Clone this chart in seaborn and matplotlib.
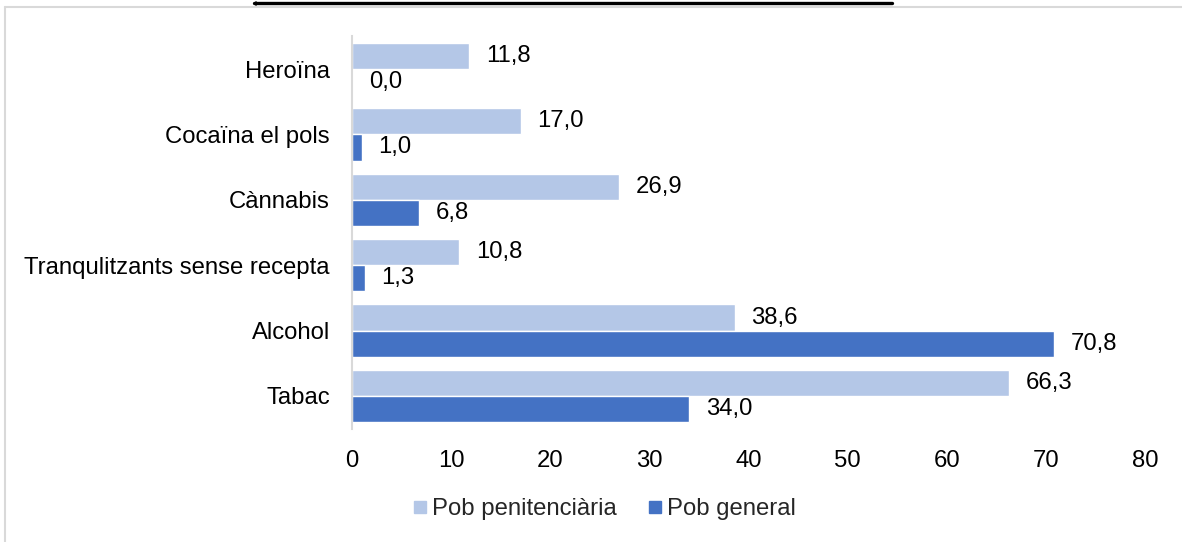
import numpy as np
import pandas as pd
import matplotlib
matplotlib.use("Agg")
import matplotlib.pyplot as plt
from matplotlib.lines import Line2D
import seaborn as sns

categories = ["Heroïna", "Cocaïna el pols", "Cànnabis",
              "Tranqulitzants sense recepta", "Alcohol", "Tabac"]
pob_penitenciaria = [11.8, 17.0, 26.9, 10.8, 38.6, 66.3]
pob_general = [0.0, 1.0, 6.8, 1.3, 70.8, 34.0]
series_names = ["Pob penitenciària", "Pob general"]
series_colors = ["#B4C7E7", "#4472C4"]
x_ticks = [0, 10, 20, 30, 40, 50, 60, 70, 80]

df = pd.DataFrame({
    "Substancia": categories * 2,
    "Valor": pob_penitenciaria + pob_general,
    "Poblacio": [series_names[0]] * len(categories) + [series_names[1]] * len(categories),
})

sns.set_style("white")
plt.rcParams["font.family"] = ["Liberation Sans", "DejaVu Sans"]
fs = 17.2

fig = plt.figure(figsize=(11.82, 5.42), dpi=100)
ax = fig.add_axes([352 / 1182, 1 - 428.7 / 542, (1145 - 352) / 1182, (428.7 - 36.3) / 542])

sns.barplot(data=df, y="Substancia", x="Valor", hue="Poblacio", orient="h",
            palette=series_colors, hue_order=series_names, order=categories,
            width=0.8, saturation=1, errorbar=None, legend=False, ax=ax)

for cont in ax.containers:
    vals = [b.get_width() for b in cont]
    ax.bar_label(cont, labels=["{:.1f}".format(v).replace(".", ",") for v in vals],
                 padding=12, fontsize=fs, color="black")

ax.set_xlim(0, 80)
ax.set_xticks(x_ticks)
ax.set_xticklabels([str(t) for t in x_ticks])
ax.set_xlabel("")
ax.set_ylabel("")
ax.tick_params(axis="both", length=0, labelsize=fs, colors="black")
ax.tick_params(axis="y", pad=16)
ax.tick_params(axis="x", pad=15)
for side in ["top", "right", "bottom"]:
    ax.spines[side].set_visible(False)
ax.spines["left"].set_color("#D9D9D9")
ax.spines["left"].set_linewidth(1.5)

handles = [Line2D([], [], marker="s", linestyle="", markersize=8.5,
                  markerfacecolor=c, markeredgecolor=c) for c in series_colors]
fig.legend(handles, series_names, loc="center", ncol=2,
           bbox_to_anchor=(604 / 1182, 1 - 509 / 542), frameon=False,
           fontsize=fs, handlelength=0.6, handletextpad=0.2, columnspacing=1.3)

# chart frame and the line above it
fig.add_artist(Line2D([5 / 1182, 1], [1 - 7 / 542, 1 - 7 / 542], color="#D9D9D9", lw=1.5))
fig.add_artist(Line2D([5 / 1182, 5 / 1182], [0, 1 - 7 / 542], color="#D9D9D9", lw=1.5))
fig.add_artist(Line2D([254 / 1182, 892 / 1182], [1 - 2.5 / 542, 1 - 2.5 / 542], color="black", lw=2.4))
fig.add_artist(Line2D([256 / 1182, 256 / 1182], [1 - 1.5 / 542, 1 - 5 / 542], color="black", lw=1.2))

fig.savefig("out.png", dpi=100)
